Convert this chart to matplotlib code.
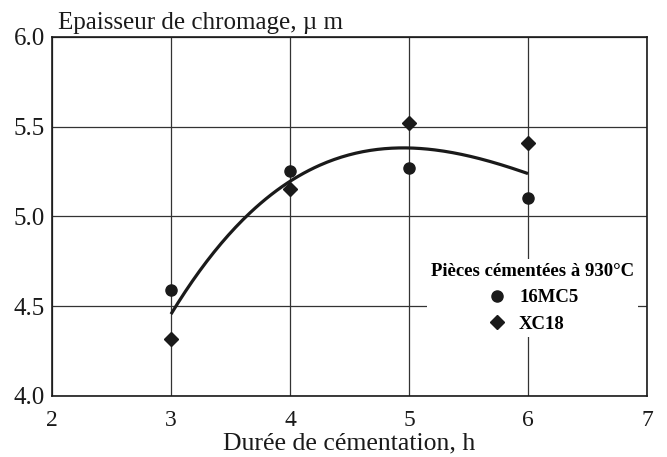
#!/usr/bin/env python3

import matplotlib.pyplot as plt
import numpy as np
from matplotlib.lines import Line2D

durations = [3, 4, 5, 6]
mc5_values = [4.59, 5.25, 5.27, 5.10]
xc18_values = [4.32, 5.15, 5.52, 5.41]

# points lus le long de la courbe moyenne
curve_x = [3.0, 3.04, 3.30, 3.64, 4.0, 4.48, 5.0, 5.34, 5.62, 6.0]
curve_y = [4.45, 4.50, 4.76, 5.00, 5.19, 5.34, 5.385, 5.36, 5.31, 5.24]

x_ticks = [2, 3, 4, 5, 6, 7]
y_ticks = [4.0, 4.5, 5.0, 5.5, 6.0]

ink = "#1a1a1a"

plt.rcParams["font.family"] = ["Liberation Serif", "DejaVu Serif"]

fig = plt.figure(figsize=(6.67, 4.57), dpi=100)
ax = fig.add_axes([0.078, 0.1335, 0.892, 0.7862])

# courbe lissée à partir des points relevés
coef = np.polyfit(curve_x, curve_y, 3)
xs = np.linspace(curve_x[0], curve_x[-1], 200)
ax.plot(xs, np.polyval(coef, xs), color=ink, lw=2.3, solid_capstyle="butt", zorder=3)

ax.plot(durations, mc5_values, "o", color=ink, ms=8, zorder=4)
ax.plot(durations, xc18_values, "D", color=ink, ms=7, zorder=4)

ax.set_xlim(2, 7)
ax.set_ylim(4.0, 6.0)
ax.set_xticks(x_ticks)
ax.set_xticklabels([str(t) for t in x_ticks])
ax.set_yticks(y_ticks)
ax.set_yticklabels([f"{t:.1f}" for t in y_ticks])
ax.tick_params(length=0, colors=ink)
ax.tick_params(axis="x", labelsize=17, pad=10)
ax.tick_params(axis="y", labelsize=18, pad=5)
ax.grid(True, color="#333333", lw=0.9)
ax.set_axisbelow(True)
for s in ax.spines.values():
    s.set_color(ink)
    s.set_linewidth(1.2)

ax.set_xlabel("Durée de cémentation, h", fontsize=18.5, color=ink, labelpad=1)
ax.text(0.01, 1.022, "Epaisseur de chromage, µ m", transform=ax.transAxes,
        fontsize=18, color=ink, ha="left", va="baseline")

handles = [
    Line2D([], [], ls="", marker="o", ms=8, color=ink),
    Line2D([], [], ls="", marker="D", ms=7, color=ink),
]
leg = ax.legend(handles, ["16MC5", "XC18"], title="Pièces cémentées à 930°C",
                loc="center", bbox_to_anchor=(0.808, 0.273),
                prop={"weight": "bold", "size": 13.5},
                title_fontproperties={"weight": "bold", "size": 13.5},
                handlelength=1.0, handletextpad=0.7, labelspacing=0.5,
                frameon=True, framealpha=1, facecolor="white", edgecolor="none",
                borderpad=0.2, fancybox=False)
leg.set_zorder(5)

fig.savefig("out.png", dpi=100)
